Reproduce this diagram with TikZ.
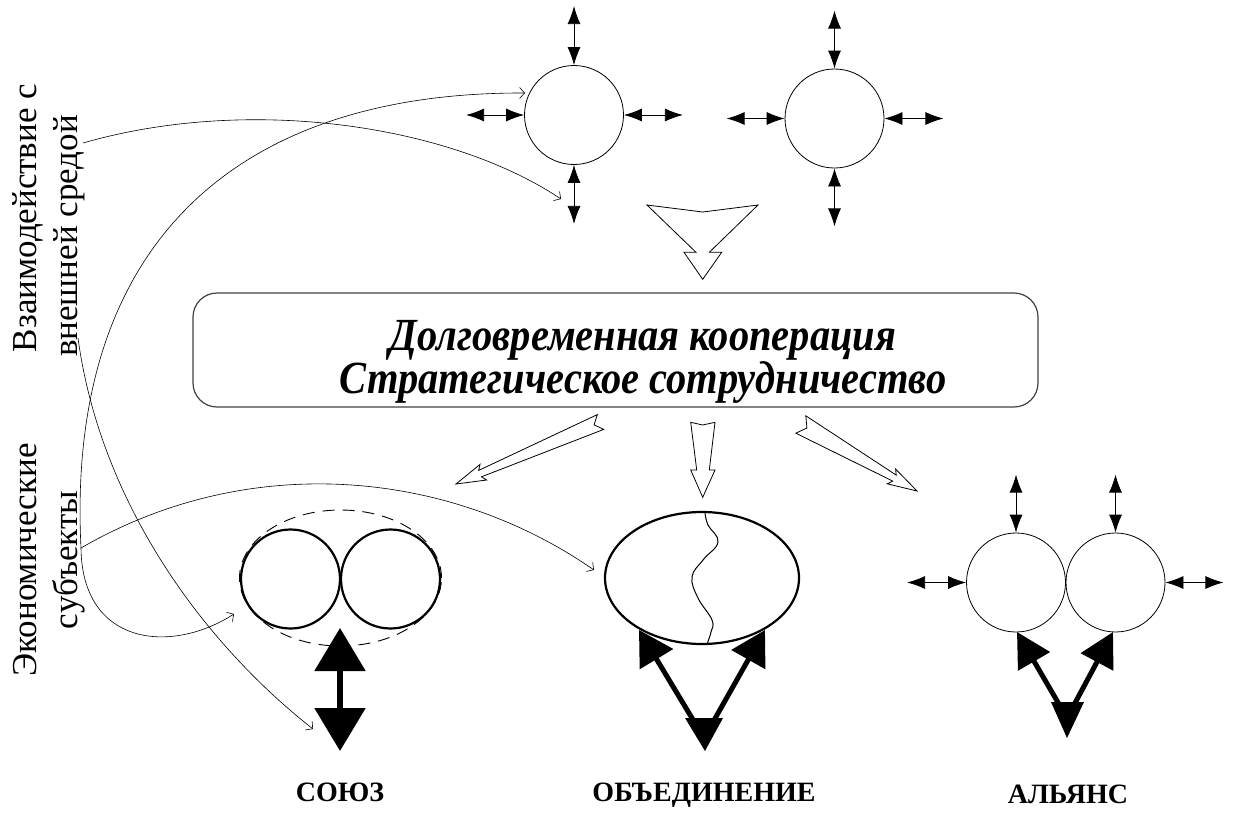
\documentclass[tikz,border=0pt]{standalone}
\usepackage{fontspec}
\setmainfont{Liberation Serif}
\newfontfamily\sidefont{Liberation Serif}
\newfontfamily\boxfont[FakeStretch=0.88]{Liberation Serif}
\usetikzlibrary{arrows.meta,shapes.geometric}
\begin{document}
\begin{tikzpicture}[x=1pt,y=-1pt,
 ringA/.style={circle,draw,line width=0.8pt,minimum size=99pt,inner sep=0pt},
 ringB/.style={circle,draw,line width=2.2pt,minimum size=99pt,inner sep=0pt},
 dbl/.style={line width=0.8pt,{Latex[length=18pt,width=13pt]}-{Latex[length=18pt,width=13pt]}},
 linkarr/.style={line width=0.6pt,-{Straight Barb[length=5pt,width=11pt]}},
 hollowarr/.style={draw,line width=0.8pt,line join=miter,fill=white},
 fatboth/.style={line width=5.5pt,{Triangle[length=43pt,width=50pt]}-{Triangle[length=43pt,width=50pt]}},
 fatarr/.style={line width=5pt,-{Triangle[length=34pt,width=38pt]}},
 sidetext/.style={font=\sidefont\fontsize{35}{40}\selectfont,rotate=90,anchor=base,inner sep=0pt},
 lbl/.style={font=\sidefont\bfseries\fontsize{28}{32}\selectfont,anchor=base,inner sep=0pt},
 boxtxt/.style={font=\boxfont\bfseries\itshape\fontsize{46}{39}\selectfont,align=center,inner sep=0pt},
]
\useasboundingbox (0,0) rectangle (1236,814);

% ---------- top circles ----------
\node[ringA] (c1) at (574,115) {};
\node[ringA] (c2) at (834.5,118.5) {};
\draw[dbl] (c1.north) -- ++(0,-59) coordinate (c1n);
\draw[dbl] (c1.south) -- ++(0,59) coordinate (c1s);
\draw[dbl] (c1.west) -- ++(-58,0) coordinate (c1w);
\draw[dbl] (c1.east) -- ++(59,0) coordinate (c1e);
\draw[dbl] (c2.north) -- ++(0,-58) coordinate (c2n);
\draw[dbl] (c2.south) -- ++(0,58) coordinate (c2s);
\draw[dbl] (c2.west) -- ++(-58,0) coordinate (c2w);
\draw[dbl] (c2.east) -- ++(59,0) coordinate (c2e);

% ---------- hollow arrow to the box ----------
\draw[hollowarr] (647,205) -- (702.7,212) -- (758,205) -- (709.3,252.3) -- (721.7,252.3)
  -- (702.7,279.3) -- (684,252.3) -- (696,252.3) -- cycle;

% ---------- main box ----------
\node[draw=black!75,line width=1.2pt,rounded corners=24pt,minimum width=845pt,minimum height=114pt,inner sep=0pt] (box) at (615.5,350) {};
\node[boxtxt] (boxt) at (643,362) {Долговременная кооперация\\Стратегическое сотрудничество};

% ---------- hollow arrows below the box ----------
\draw[hollowarr] (597.3,414.6) -- (478.7,470.4) -- (480.0,464.4) -- (456,484) -- (486.6,480.0)
  -- (481.5,476.8) -- (603.7,429.4) -- (594.1,424.8) -- cycle;
\draw[hollowarr] (690.7,422.3) -- (702.7,425) -- (715,422.3) -- (709.3,470) -- (715,470)
  -- (702.7,497.3) -- (690.7,470) -- (696.7,470) -- cycle;
\draw[hollowarr] (805.8,415.8) -- (896.2,475.1) -- (895.6,469.0) -- (917,491) -- (887.2,483.8)
  -- (892.8,481.1) -- (795.8,433.2) -- (806.9,428) -- cycle;

% ---------- union (СОЮЗ) ----------
\node[ellipse,draw,dash pattern=on 12pt off 8pt,line width=0.9pt,minimum width=202pt,minimum height=136pt,inner sep=0pt] (ue) at (340.5,578) {};
\node[ringB] (u1) at (290.5,579) {};
\node[ringB] (u2) at (390.5,579) {};
\coordinate (ut) at (340,628);
\coordinate (ub) at (340,751);
\draw[fatboth] (ut) -- (ub);

% ---------- association (ОБЪЕДИНЕНИЕ) ----------
\node[ellipse,draw,line width=2.2pt,minimum width=194pt,minimum height=132pt,inner sep=0pt] (ob) at (702,578) {};
\draw[line width=1pt] plot[smooth,tension=0.7] coordinates {(705,513) (708,525) (718,542) (703,560) (692,577) (698,598) (712,620) (711,632) (707,644)};
\coordinate (obm) at (704,738);
\coordinate (obl) at (639,630);
\coordinate (obr) at (765,630);
\draw[fatarr] (obm) -- (obl);
\draw[fatarr] (obm) -- (obr);
\fill (685,718) -- (723,718) -- (705,751) -- cycle;

% ---------- alliance (АЛЬЯНС) ----------
\node[ringA] (a1) at (1016,582.5) {};
\node[ringA] (a2) at (1115.5,582.5) {};
\draw[dbl] (a1.north) -- ++(0,-58) coordinate (a1n);
\draw[dbl] (a2.north) -- ++(0,-58) coordinate (a2n);
\draw[dbl] (a1.west) -- ++(-59,0) coordinate (a1w);
\draw[dbl] (a2.east) -- ++(58,0) coordinate (a2e);
\coordinate (alm) at (1067,718);
\coordinate (all) at (1017,632);
\coordinate (alr) at (1113,632);
\draw[fatarr,-{Triangle[length=34pt,width=36pt]}] (alm) -- (all);
\draw[fatarr,-{Triangle[length=34pt,width=36pt]}] (alm) -- (alr);
\fill (1051,702) -- (1084,702) -- (1067,738) -- cycle;

% ---------- labels ----------
\node[lbl] (l1) at (340,801) {СОЮЗ};
\node[lbl] (l2) at (704,801) {ОБЪЕДИНЕНИЕ};
\node[lbl] (l3) at (1068,803) {АЛЬЯНС};

% ---------- side texts ----------
\node[sidetext] (t1) at (36,218) {Взаимодействие с};
\node[sidetext] (t2) at (77,236) {внешней средой};
\node[sidetext] (t3) at (36,560) {Экономические};
\node[sidetext] (t4) at (77,560) {субъекты};

\coordinate (tA) at (83,143);
\coordinate (tB) at (78,338);
\coordinate (sA) at (81,548);
\coordinate (e1) at (561,199);
\coordinate (e2) at (313,729);
\coordinate (e3) at (525,93);
\coordinate (e4) at (234,614);
\coordinate (e5) at (594,570);

\draw[linkarr] (tA) .. controls (250,95) and (450,125) .. (e1);
\draw[linkarr] (tB) .. controls (100,500) and (200,640) .. (e2);
\draw[linkarr] (sA) .. controls (66,250) and (230,92) .. (e3);
\draw[linkarr] (sA) .. controls (82,645) and (170,655) .. (e4);
\draw[linkarr] (sA) .. controls (250,450) and (450,470) .. (e5);
\end{tikzpicture}
\end{document}
